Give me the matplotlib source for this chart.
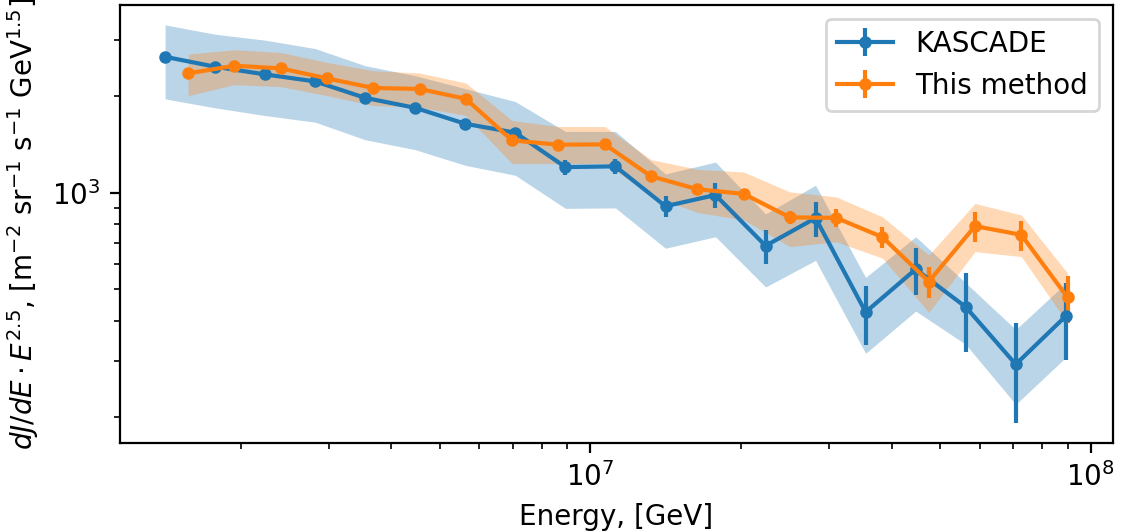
import matplotlib
matplotlib.use('Agg')
import matplotlib.pyplot as plt
import numpy as np

# KASCADE spectrum (E^2.5 weighted)
e_kascade = [1.413e6, 1.778e6, 2.239e6, 2.818e6, 3.548e6, 4.467e6, 5.623e6, 7.079e6,
             8.913e6, 1.122e7, 1.413e7, 1.778e7, 2.239e7, 2.818e7, 3.548e7, 4.467e7,
             5.623e7, 7.079e7, 8.913e7]
j_kascade = [2658, 2475, 2342, 2227, 1979, 1842, 1643, 1541, 1204, 1210, 909, 985,
             684, 835, 425, 578, 441, 292, 413]
err_kascade = [20, 20, 22, 25, 28, 30, 35, 38, 63, 65, 69, 90, 82, 105, 89, 97, 123, 100, 112]
lo_kascade = [1965, 1842, 1743, 1662, 1465, 1364, 1219, 1135, 895, 898, 672, 730,
              509, 616, 316, 428, 337, 219, 307]
hi_kascade = [3342, 3126, 2995, 2820, 2493, 2320, 2114, 1927, 1555, 1555, 1146, 1248,
              860, 1057, 545, 730, 524, 375, 523]

# this method
e_method = [1.571e6, 1.944e6, 2.406e6, 2.977e6, 3.683e6, 4.557e6, 5.638e6, 6.976e6,
            8.631e6, 1.0686e7, 1.322e7, 1.636e7, 2.024e7, 2.505e7, 3.099e7, 3.834e7,
            4.744e7, 5.869e7, 7.262e7, 8.985e7]
j_method = [2359, 2493, 2445, 2276, 2125, 2110, 1965, 1458, 1414, 1417, 1127, 1027,
            993, 839, 836, 728, 529, 788, 740, 472]
err_method = [10, 10, 10, 12, 12, 12, 14, 15, 15, 16, 18, 20, 22, 37, 52, 56, 58, 85, 79, 79]
lo_method = [2011, 2176, 2145, 2011, 1873, 1852, 1743, 1234, 1234, 1237, 984, 869,
             824, 680, 704, 626, 424, 656, 633, 393]
hi_method = [2710, 2795, 2741, 2552, 2405, 2365, 2202, 1682, 1611, 1611, 1270, 1185,
             1162, 1007, 972, 842, 640, 927, 853, 562]

fig = plt.figure(figsize=(5.605, 2.66), dpi=200)
ax = fig.add_subplot(111)
ax.fill_between(e_kascade, lo_kascade, hi_kascade, color='C0', alpha=0.3, lw=0)
ax.errorbar(e_kascade, j_kascade, yerr=err_kascade, fmt='-o', color='C0', ms=3.5, label='KASCADE')
ax.fill_between(e_method, lo_method, hi_method, color='C1', alpha=0.3, lw=0)
ax.errorbar(e_method, j_method, yerr=err_method, fmt='-o', color='C1', ms=3.5, label='This method')
ax.set_xscale('log')
ax.set_yscale('log')
ax.set_xlabel('Energy, [GeV]')
ax.set_ylabel(r'$dJ/dE \cdot E^{2.5}$, [m$^{-2}$ sr$^{-1}$ s$^{-1}$ GeV$^{1.5}$]')
ax.legend(loc='upper right')
plt.subplots_adjust(left=0.107, right=0.9926, top=0.9906, bottom=0.168)
plt.savefig('out.png', dpi=200)
